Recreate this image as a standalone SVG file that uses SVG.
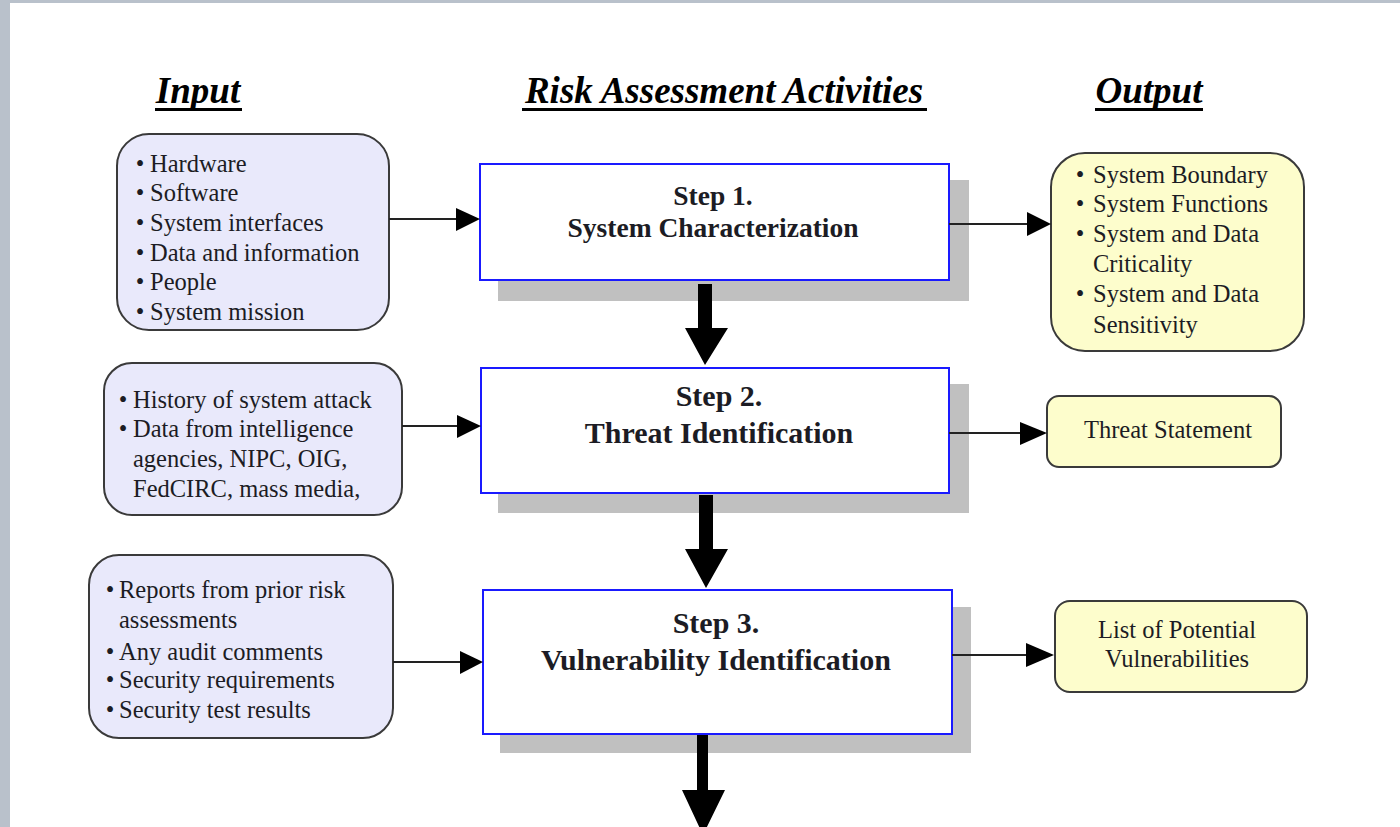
<svg xmlns="http://www.w3.org/2000/svg" width="1400" height="827" viewBox="0 0 1400 827">
<defs>
<marker id="ah" viewBox="0 0 10 10" refX="10" refY="5" markerWidth="11" markerHeight="11" markerUnits="userSpaceOnUse" orient="auto">
<path d="M0,0 L10,5 L0,10 Z" fill="#000"/>
</marker>
<style>
.t{font-family:"Liberation Serif","Times New Roman",serif;font-size:24.5px;fill:#1c1c24}
.h{font-family:"Liberation Serif","Times New Roman",serif;font-size:37px;font-weight:bold;font-style:italic;fill:#000}
.s{font-family:"Liberation Serif","Times New Roman",serif;font-weight:bold;fill:#1c1c24;text-anchor:middle}
.in{fill:#e9e9fb;stroke:#3a3a3a;stroke-width:2}
.out{fill:#fdfdcc;stroke:#3a3a3a;stroke-width:2}
.step{fill:#fff;stroke:#1a1aff;stroke-width:2}
.sh{fill:#c0c0c0}
.ln{stroke:#222;stroke-width:2;fill:none}
.mid{text-anchor:middle}
</style>
</defs>
<rect x="0" y="0" width="1400" height="827" fill="#fff"/>
<rect x="0" y="0" width="1400" height="3" fill="#b9c1cb"/>
<rect x="0" y="0" width="10" height="827" fill="#b9c1cb"/>

<g id="headers">
<text class="h" x="198" y="103" text-anchor="middle">Input</text>
<rect x="155" y="108" width="87" height="3" fill="#000"/>
<text class="h" x="724" y="103" text-anchor="middle">Risk Assessment Activities</text>
<rect x="522" y="108" width="405" height="3" fill="#000"/>
<text class="h" x="1149" y="103" text-anchor="middle">Output</text>
<rect x="1095" y="108" width="108" height="3" fill="#000"/>
</g>

<g id="input1">
<rect class="in" x="117" y="134" width="272" height="196" rx="32"/>
<text class="t" x="140" y="172" text-anchor="middle">•</text><text class="t" x="150" y="172">Hardware</text>
<text class="t" x="140" y="201" text-anchor="middle">•</text><text class="t" x="150" y="201">Software</text>
<text class="t" x="140" y="231" text-anchor="middle">•</text><text class="t" x="150" y="231">System interfaces</text>
<text class="t" x="140" y="261" text-anchor="middle">•</text><text class="t" x="150" y="261">Data and information</text>
<text class="t" x="140" y="290" text-anchor="middle">•</text><text class="t" x="150" y="290">People</text>
<text class="t" x="140" y="320" text-anchor="middle">•</text><text class="t" x="150" y="320">System mission</text>
</g>

<g id="input2">
<rect class="in" x="104" y="363" width="298" height="152" rx="28"/>
<text class="t" x="123" y="408" text-anchor="middle">•</text><text class="t" x="133" y="408">History of system attack</text>
<text class="t" x="123" y="437" text-anchor="middle">•</text><text class="t" x="133" y="437">Data from intelligence</text>
<text class="t" x="133" y="467">agencies, NIPC, OIG,</text>
<text class="t" x="133" y="497">FedCIRC, mass media,</text>
</g>

<g id="input3">
<rect class="in" x="89" y="555" width="304" height="183" rx="30"/>
<text class="t" x="110" y="598" text-anchor="middle">•</text><text class="t" x="119" y="598">Reports from prior risk</text>
<text class="t" x="119" y="628">assessments</text>
<text class="t" x="110" y="660" text-anchor="middle">•</text><text class="t" x="119" y="660">Any audit comments</text>
<text class="t" x="110" y="688" text-anchor="middle">•</text><text class="t" x="119" y="688">Security requirements</text>
<text class="t" x="110" y="718" text-anchor="middle">•</text><text class="t" x="119" y="718">Security test results</text>
</g>

<g id="step1">
<rect class="sh" x="498" y="180" width="471" height="121"/>
<rect class="step" x="480" y="164" width="469" height="116"/>
<text class="s" x="713" y="205" font-size="27.5">Step 1.</text>
<text class="s" x="713" y="237" font-size="27.5">System Characterization</text>
</g>

<g id="step2">
<rect class="sh" x="498" y="384" width="471" height="129"/>
<rect class="step" x="481" y="368" width="468" height="125"/>
<text class="s" x="719" y="406" font-size="30">Step 2.</text>
<text class="s" x="719" y="443" font-size="30">Threat Identification</text>
</g>

<g id="step3">
<rect class="sh" x="500" y="607" width="471" height="146"/>
<rect class="step" x="483" y="590" width="469" height="144"/>
<text class="s" x="716" y="633" font-size="30">Step 3.</text>
<text class="s" x="716" y="670" font-size="30">Vulnerability Identification</text>
</g>

<g id="output1">
<rect class="out" x="1051" y="153" width="253" height="198" rx="34"/>
<text class="t" x="1080" y="183" text-anchor="middle">•</text><text class="t" x="1093" y="183">System Boundary</text>
<text class="t" x="1080" y="212" text-anchor="middle">•</text><text class="t" x="1093" y="212">System Functions</text>
<text class="t" x="1080" y="242" text-anchor="middle">•</text><text class="t" x="1093" y="242">System and Data</text>
<text class="t" x="1093" y="272">Criticality</text>
<text class="t" x="1080" y="302" text-anchor="middle">•</text><text class="t" x="1093" y="302">System and Data</text>
<text class="t" x="1093" y="333">Sensitivity</text>
</g>

<g id="output2">
<rect class="out" x="1047" y="396" width="234" height="71" rx="12"/>
<text class="t mid" x="1168" y="438">Threat Statement</text>
</g>

<g id="output3">
<rect class="out" x="1055" y="601" width="252" height="91" rx="15"/>
<text class="t mid" x="1177" y="638">List of Potential</text>
<text class="t mid" x="1177" y="667">Vulnerabilities</text>
</g>

<g id="connectors">
<line class="ln" x1="389" y1="219" x2="458" y2="219"/>
<polygon points="456,208 480,219 456,231" fill="#000"/>
<line class="ln" x1="402" y1="426" x2="460" y2="426"/>
<polygon points="457,415 481,426 457,438" fill="#000"/>
<line class="ln" x1="393" y1="662" x2="462" y2="662"/>
<polygon points="460,651 483,662 460,674" fill="#000"/>

<line class="ln" x1="949" y1="224" x2="1030" y2="224"/>
<polygon points="1027,212 1051,224 1027,236" fill="#000"/>
<line class="ln" x1="949" y1="433" x2="1023" y2="433"/>
<polygon points="1020,422 1047,433 1020,445" fill="#000"/>
<line class="ln" x1="952" y1="655" x2="1030" y2="655"/>
<polygon points="1026,643 1054,655 1026,667" fill="#000"/>

<polygon points="698,284 712,284 712,328 728,328 705,365 685,328 698,328" fill="#000"/>
<polygon points="699,495 713,495 713,549 728,549 706,588 685,549 699,549" fill="#000"/>
<polygon points="697,735 708,735 708,790 725,790 703,835 682,790 697,790" fill="#000"/>
</g>
</svg>
